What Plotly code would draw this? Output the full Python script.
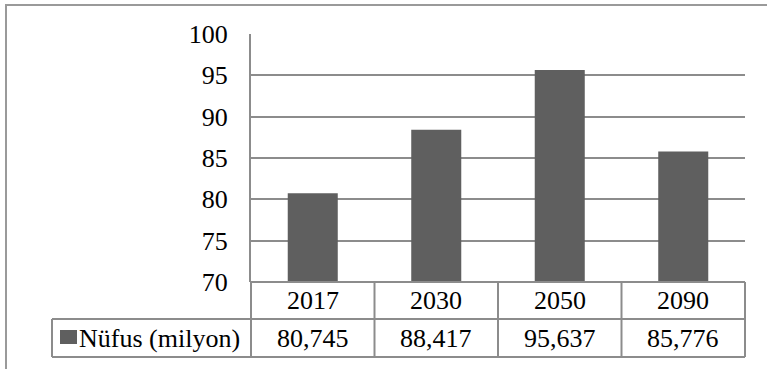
import plotly.graph_objects as go

# Population projection (millions)
years = ["2017", "2030", "2050", "2090"]
population = [80.745, 88.417, 95.637, 85.776]
series_name = "Nüfus (milyon)"
y_ticks = [70, 75, 80, 85, 90, 95, 100]

W, H = 767, 369
PLOT_L, PLOT_R, PLOT_T, PLOT_B = 251, 745, 34, 282
ROW1_B, ROW2_B = 319, 357
LEGEND_CELL_L = 52

BAR_COLOR = "#5f5f5f"
LINE_COLOR = "#8c8c8c"
FONT = "Times New Roman"
FS = 26

pw = PLOT_R - PLOT_L
ph = PLOT_B - PLOT_T


def px_x(x):
    return (x - PLOT_L) / pw


def px_y(y):
    return (PLOT_B - y) / ph


fig = go.Figure(
    go.Bar(
        x=years,
        y=population,
        marker=dict(color=BAR_COLOR, line=dict(width=0)),
        name=series_name,
        showlegend=False,
    )
)

shapes = []
line = dict(color=LINE_COLOR, width=2)

# data table: horizontal rules
shapes.append(dict(type="line", xref="paper", yref="paper",
                   x0=0, x1=1, y0=px_y(PLOT_B), y1=px_y(PLOT_B), line=line))
for yy in (ROW1_B, ROW2_B):
    shapes.append(dict(type="line", xref="paper", yref="paper",
                       x0=px_x(LEGEND_CELL_L), x1=1, y0=px_y(yy), y1=px_y(yy), line=line))

# data table: vertical rules
n = len(years)
for i in range(n + 1):
    xx = i / n
    shapes.append(dict(type="line", xref="paper", yref="paper",
                       x0=xx, x1=xx, y0=px_y(PLOT_B), y1=px_y(ROW2_B), line=line))
shapes.append(dict(type="line", xref="paper", yref="paper",
                   x0=px_x(LEGEND_CELL_L), x1=px_x(LEGEND_CELL_L),
                   y0=px_y(ROW1_B), y1=px_y(ROW2_B), line=line))

# legend key in the table
shapes.append(dict(type="rect", xref="paper", yref="paper",
                   x0=px_x(60), x1=px_x(77), y0=px_y(344), y1=px_y(330),
                   fillcolor=BAR_COLOR, line=dict(width=0)))

# chart frame
shapes.append(dict(type="rect", xref="paper", yref="paper",
                   x0=px_x(6), x1=px_x(790), y0=px_y(390), y1=px_y(5),
                   line=dict(color="#9a9a9a", width=2), fillcolor="rgba(0,0,0,0)",
                   layer="below"))

annotations = []
row1_c = px_y((PLOT_B + ROW1_B) / 2)
row2_c = px_y((ROW1_B + ROW2_B) / 2)
for i, (yr, v) in enumerate(zip(years, population)):
    cx = (i + 0.5) / n
    annotations.append(dict(x=cx, xref="paper", y=row1_c, yref="paper", text=yr,
                            showarrow=False, xanchor="center", yanchor="middle",
                            font=dict(family=FONT, size=FS, color="black")))
    annotations.append(dict(x=cx, xref="paper", y=row2_c, yref="paper",
                            text=f"{v:.3f}".replace(".", ","),
                            showarrow=False, xanchor="center", yanchor="middle",
                            font=dict(family=FONT, size=FS, color="black")))
annotations.append(dict(x=px_x(77), xref="paper", y=row2_c, yref="paper", text=series_name,
                        showarrow=False, xanchor="left", yanchor="middle",
                        font=dict(family=FONT, size=FS, color="black")))

fig.update_layout(
    width=W,
    height=H,
    margin=dict(l=PLOT_L, r=W - PLOT_R, t=PLOT_T, b=H - PLOT_B, pad=0),
    paper_bgcolor="white",
    plot_bgcolor="white",
    font=dict(family=FONT, size=FS, color="black"),
    bargap=0.595,
    shapes=shapes,
    annotations=annotations,
    xaxis=dict(
        type="category",
        range=[-0.5, n - 0.5],
        showticklabels=False,
        showgrid=False,
        showline=False,
        zeroline=False,
        ticks="",
    ),
    yaxis=dict(
        range=[70, 100],
        tickvals=y_ticks,
        showgrid=True,
        gridcolor=LINE_COLOR,
        gridwidth=2,
        showline=True,
        linecolor=LINE_COLOR,
        linewidth=2,
        zeroline=False,
        ticks="",
        ticklabelstandoff=16,
        tickfont=dict(family=FONT, size=FS, color="black"),
    ),
)

fig.write_html("out.html")
